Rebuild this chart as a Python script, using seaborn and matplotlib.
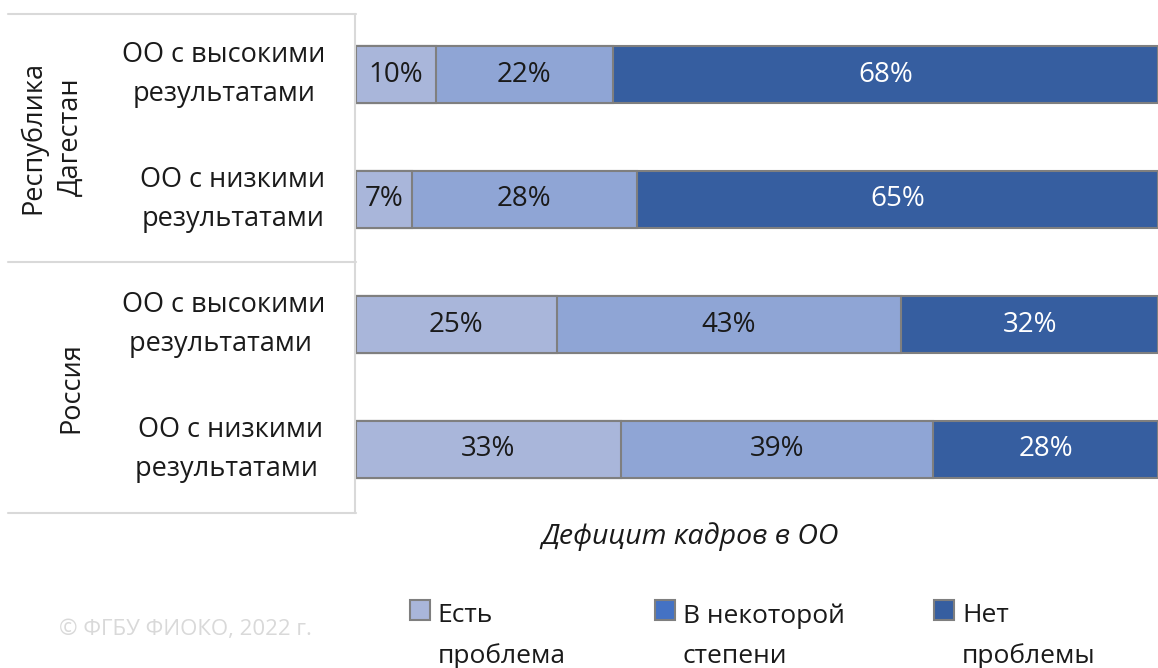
import pandas as pd
import matplotlib
matplotlib.use("Agg")
import matplotlib.pyplot as plt
from matplotlib.lines import Line2D
from matplotlib.patches import Patch, Rectangle
from matplotlib.legend_handler import HandlerPatch
import seaborn as sns

# data
categories = ["ОО с высокими\nрезультатами", "ОО с низкими\nрезультатами",
              "ОО с высокими\nрезультатами ", "ОО с низкими\nрезультатами "]
groups = ["Республика\nДагестан", "Россия"]
series = ["Есть\nпроблема", "В некоторой\nстепени", "Нет\nпроблемы"]
est_problema = [10, 7, 25, 33]
nekotoroy = [22, 28, 43, 39]
net_problemy = [68, 65, 32, 28]

bar_colors = ["#A9B6DA", "#8FA5D5", "#365EA0"]
legend_colors = ["#A9B6DA", "#4472C4", "#365EA0"]
text_colors = ["#1a1a1a", "#1a1a1a", "white"]
edge = "#7F7F7F"
line_col = "#D9D9D9"

sns.set_theme(style="white")
plt.rcParams["font.family"] = ["Open Sans", "DejaVu Sans"]

df = pd.DataFrame({"cat": categories, "s1": est_problema,
                   "s2": nekotoroy, "s3": net_problemy})
df["c1"] = df["s1"]
df["c2"] = df["s1"] + df["s2"]
df["c3"] = df["c2"] + df["s3"]

fig = plt.figure(figsize=(11.58, 6.68), dpi=100)
ax = fig.add_axes([356 / 1158, 1 - 512 / 668, 1 - 356 / 1158, 500 / 668])

# stacked bars drawn as overlapping cumulative bars
for col, color in zip(["c3", "c2", "c1"], bar_colors[::-1]):
    sns.barplot(data=df, x=col, y="cat", color=color, orient="h", width=0.456,
                edgecolor=edge, linewidth=1.5, saturation=1, ax=ax)

# value labels
for i, row in df.iterrows():
    left = 0
    for j, key in enumerate(["s1", "s2", "s3"]):
        v = row[key]
        ax.text(left + v / 2, i, f"{v}%", ha="center", va="center",
                fontsize=20, color=text_colors[j])
        left += v

ax.set_xlim(0, 100)
ax.set_ylim(3.5, -0.5)
ax.set_xticks([])
ax.set_xlabel("")
ax.set_ylabel("")
ax.tick_params(axis="y", length=0, pad=22)
ax.set_yticks(range(len(categories)))
ax.set_yticklabels(categories, fontsize=19.5, color="#1a1a1a",
                   multialignment="center", linespacing=1.55)
for t in ax.get_yticklabels():
    t.set_va("center")
for s in ax.spines.values():
    s.set_visible(False)

# table lines around the category labels
W, H = 1158, 668
def hline(y, x0, x1):
    fig.add_artist(Line2D([x0 / W, x1 / W], [1 - y / H, 1 - y / H],
                          color=line_col, lw=1.5))
hline(14, 8, 356)
hline(262, 8, 356)
hline(513, 8, 356)
fig.add_artist(Line2D([355 / W, 355 / W], [1 - 14 / H, 1 - 513 / H],
                      color=line_col, lw=1.5))

# group labels
fig.text(52 / W, 1 - 137 / H, groups[0], rotation=90, ha="center", va="center",
         fontsize=19.5, color="#1a1a1a", multialignment="center", linespacing=1.45)
fig.text(71 / W, 1 - 388 / H, groups[1], rotation=90, ha="center", va="center",
         fontsize=19.5, color="#1a1a1a")

# axis title
fig.text(690 / W, 1 - 537 / H, "Дефицит кадров в ОО", ha="center", va="center",
         fontsize=20.5, style="italic", color="#1a1a1a")

# copyright
fig.text(185 / W, 1 - 630 / H, "© ФГБУ ФИОКО, 2022 г.", ha="center", va="center",
         fontsize=16, color="#D9D9D9")


# legend marker next to the first line of each two-line label
def top_patch(legend, orig_handle, xdescent, ydescent, width, height, fontsize):
    return Rectangle((-xdescent, -ydescent + fontsize * 1.0), width, height)


handles = [Patch(facecolor=c, edgecolor=edge, linewidth=1.5) for c in legend_colors]
leg = fig.legend(handles, series, loc="upper left",
                 bbox_to_anchor=(386 / W, 1 - 579 / H), ncol=3, frameon=False,
                 prop={"size": 19},
                 handlelength=0.75, handleheight=0.75,
                 handletextpad=0.3, columnspacing=3.4,
                 handler_map={Patch: HandlerPatch(patch_func=top_patch)})
for t in leg.get_texts():
    t.set_linespacing(1.8)
    t.set_color("#1a1a1a")

fig.savefig("out.png", dpi=100)
